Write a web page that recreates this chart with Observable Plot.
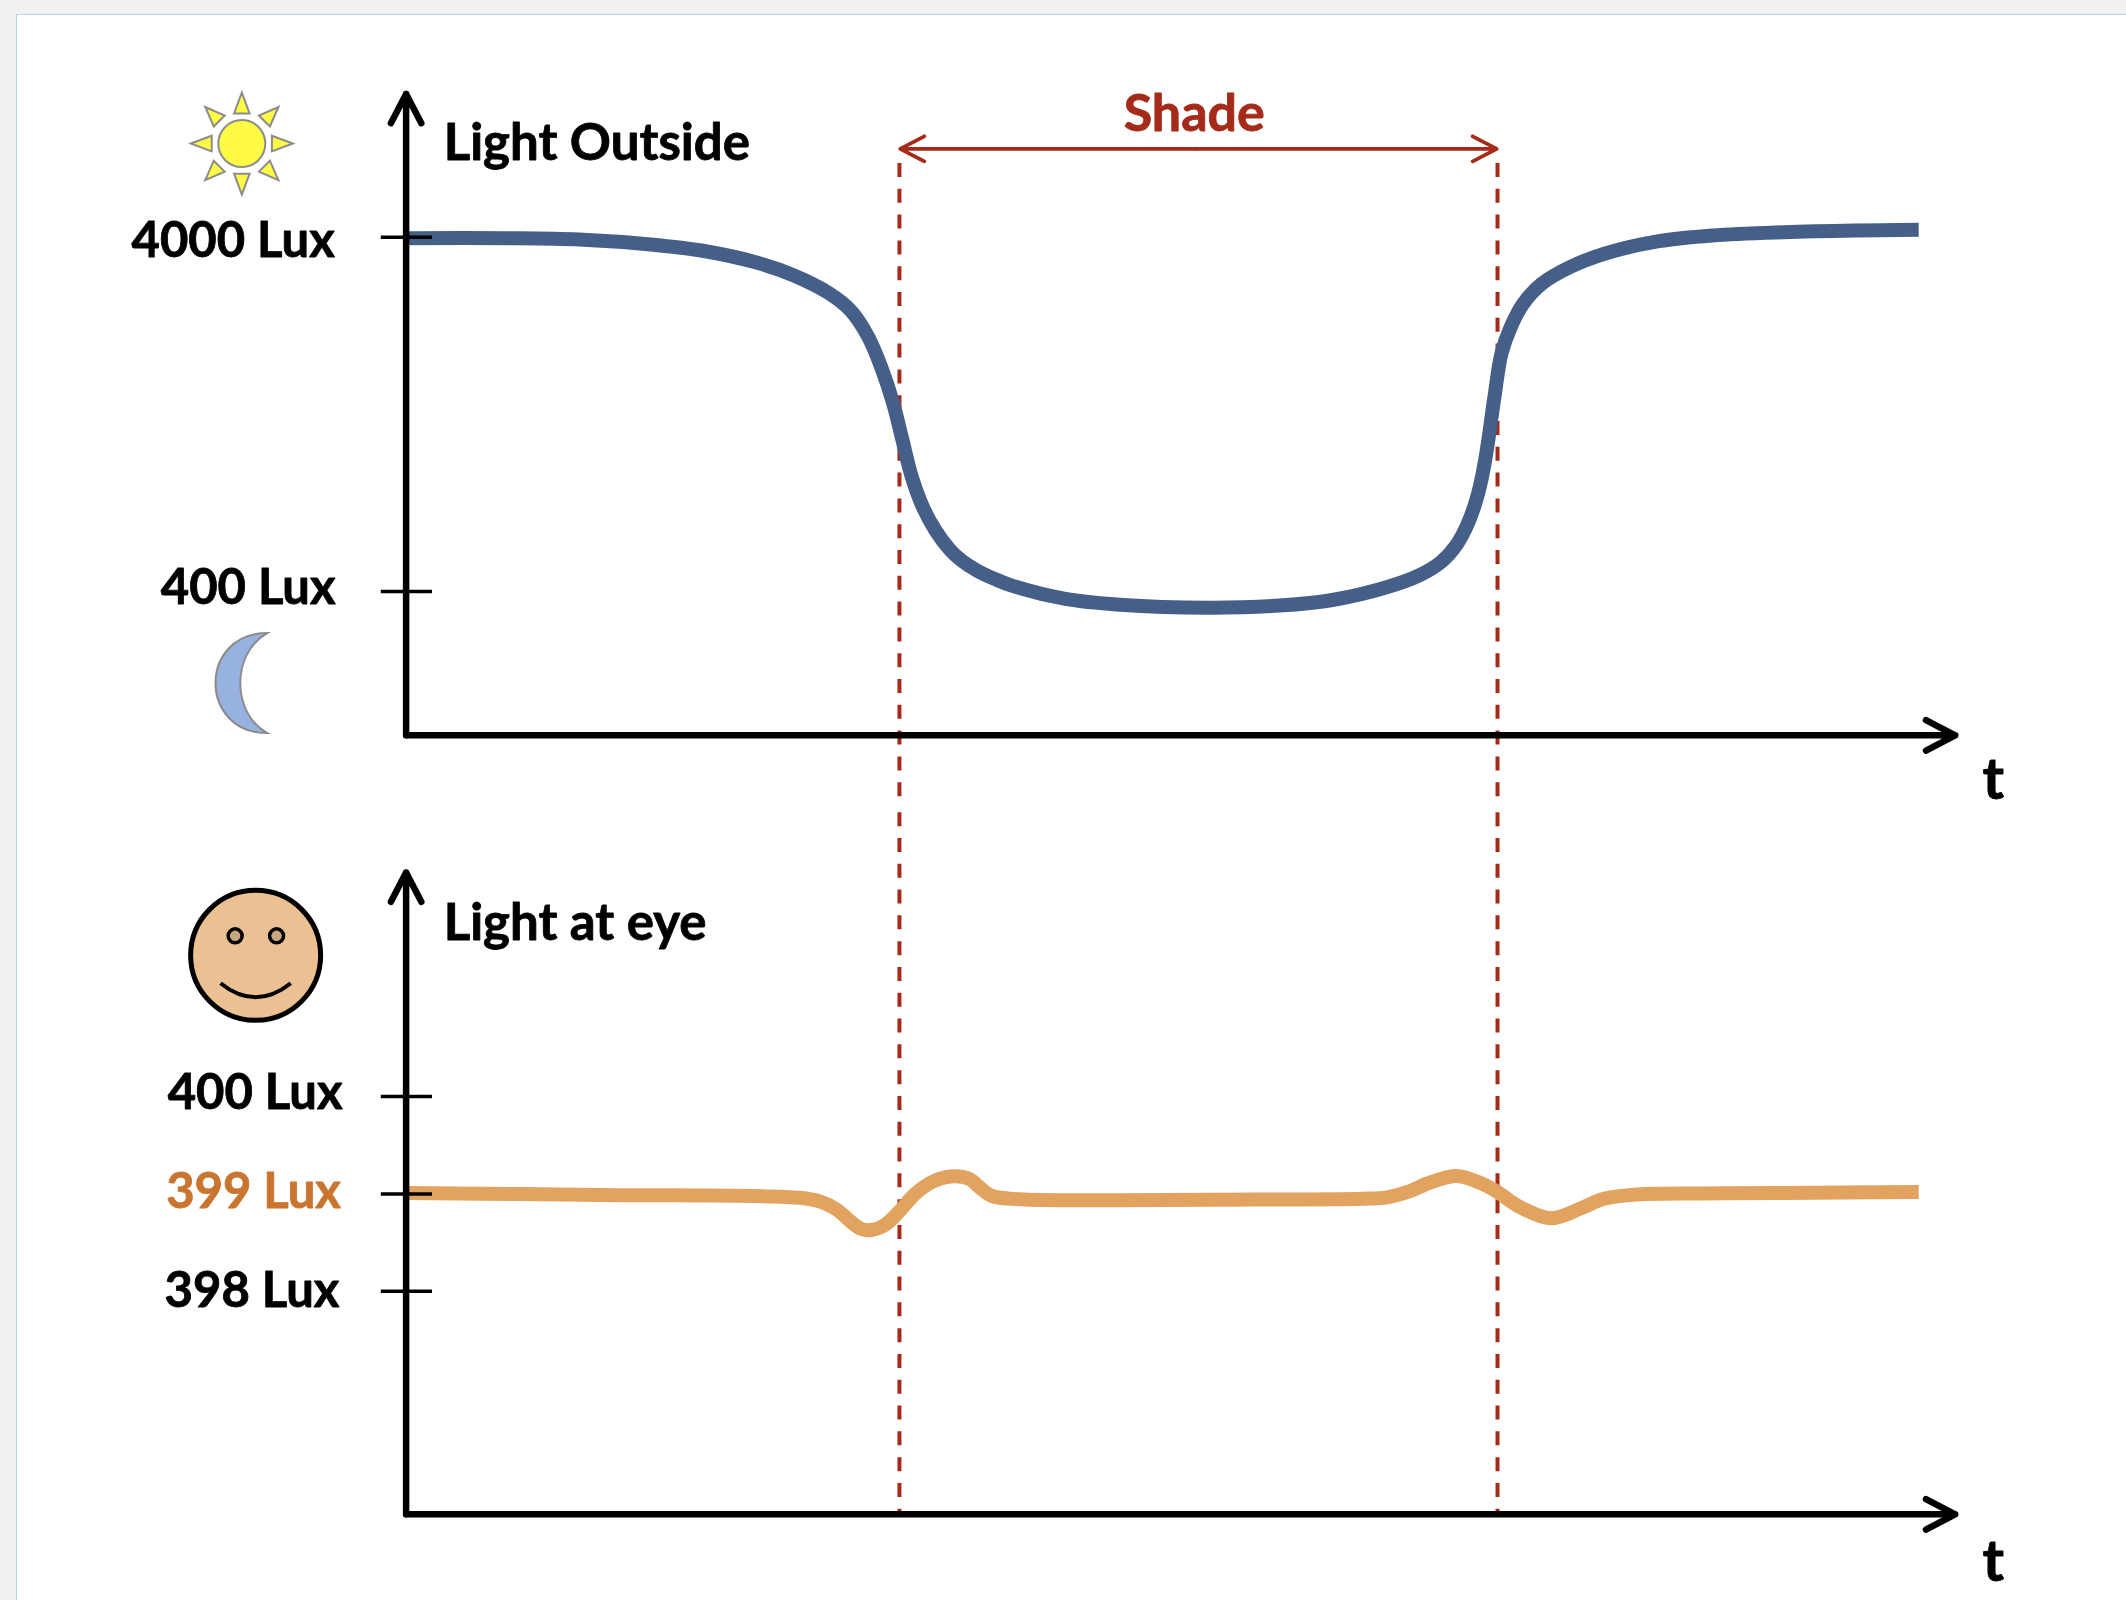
<!DOCTYPE html>
<html>
<head>
<meta charset="utf-8">
<script src="https://cdn.jsdelivr.net/npm/d3@7"></script>
<script src="https://cdn.jsdelivr.net/npm/@observablehq/plot@0.6"></script>
<style>
  html, body { margin: 0; padding: 0; width: 2126px; height: 1600px; overflow: hidden; background: #f1f1f1; }
  #sheet { position: absolute; left: 16px; top: 14px; right: 0; bottom: 0; background: #fff; border-left: 1.5px solid #bdd0e8; border-top: 1.5px solid #bdd0e8; box-sizing: border-box; }
  #top, #bottom { position: absolute; left: 0; width: 2126px; height: 800px; }
  #top { top: 0; } #bottom { top: 800px; }
  svg { display: block; background: transparent !important; }
</style>
</head>
<body>
<div id="sheet"></div>
<div id="top"></div>
<div id="bottom"></div>
<script>
// Light outside (t: percent of the axis length, lux on a log axis)
const tOutside = [0, 6.5, 11.15, 15.75, 19.2, 22.65, 25, 27.25, 28.65, 29.8, 30.7, 31.4, 32, 32.6, 33.35, 34.12, 35.03, 35.8, 36.77, 37.93, 39, 42.5, 46, 51.7, 56.3, 59.8, 63.2, 65.3, 66.7, 67.7, 68.48, 69.1, 69.55, 70.15, 70.6, 71.2, 72, 73.2, 75, 77.3, 80.75, 84.2, 88.8, 93.4, 97.5];
const luxOutside = [3975, 3975, 3941, 3815, 3657, 3387, 3118, 2780, 2484, 2088, 1682, 1357, 1067, 841, 686, 595, 526, 489, 459, 434, 416, 381, 367, 360, 365, 379, 411, 444, 484, 541, 628, 756, 937, 1414, 1875, 2229, 2594, 2955, 3291, 3598, 3897, 4045, 4132, 4178, 4196];

// Light at the eye (lux on a linear axis)
const tEye = [0, 12.5, 25.4, 26.7, 27.75, 28.7, 29.35, 30, 30.85, 31.85, 32.8, 34, 35.1, 36.3, 36.95, 37.75, 39.55, 45.15, 51.7, 61.6, 63.25, 64.55, 66.05, 67.7, 69.15, 70.35, 71.8, 73.85, 75.7, 77.2, 79.4, 83.8, 88.8, 97.5];
const luxEye = [399.01, 398.99, 398.96, 398.92, 398.84, 398.71, 398.64, 398.63, 398.68, 398.83, 399, 399.13, 399.18, 399.155, 399.07, 398.98, 398.945, 398.935, 398.94, 398.95, 398.965, 399.02, 399.12, 399.185, 399.12, 399.02, 398.865, 398.75, 398.85, 398.95, 398.995, 399.005, 399.01, 399.02];

const shadeT = [31.8, 70.35];
const outsideTicks = [4000, 400];
const outsideTickLabels = ["4000 Lux", "400 Lux"];
const eyeTicks = [400, 399, 398];
const eyeTickLabels = ["400 Lux", "399 Lux", "398 Lux"];

const BLUE = "#465f88", ORANGE = "#e2a360", RED = "#a42b19", ORANGE_TEXT = "#c9742f", GREY = "#8c8c8c";
const FONT = "Lato";
const xScale = {domain: [-26.145, 110.893], range: [0, 2126], axis: null};
const base = {width: 2126, height: 800, marginTop: 0, marginRight: 0, marginBottom: 0, marginLeft: 0, style: {background: "transparent", overflow: "visible"}};
const one = [0];

// Icons are drawn as custom dot symbols placed through the scales
const sunRays = {draw(c, size) {
  const r = Math.sqrt(size / Math.PI);
  for (let k = 0; k < 8; ++k) {
    const a = k * Math.PI / 4, cs = Math.cos(a), sn = Math.sin(a);
    const long = k % 2 ? 2.2 : 2.17, inner = k % 2 ? 1.36 : 1.28, hw = 0.33;
    c.moveTo(r * long * cs, r * long * sn);
    c.lineTo(r * (inner * cs - hw * sn), r * (inner * sn + hw * cs));
    c.lineTo(r * (inner * cs + hw * sn), r * (inner * sn - hw * cs));
    c.closePath();
  }
}};
const moon = {draw(c, size) {
  const r = Math.sqrt(size / Math.PI);
  c.moveTo(0, -r);
  c.bezierCurveTo(-1.38 * r, -r, -1.38 * r, r, 0, r);
  c.bezierCurveTo(-0.72 * r, 0.6 * r, -0.72 * r, -0.6 * r, 0, -r);
  c.closePath();
}};
const smile = {draw(c, size) {
  const r = Math.sqrt(size / Math.PI);
  c.moveTo(-0.54 * r, 0.43 * r);
  c.quadraticCurveTo(0, 0.86 * r, 0.54 * r, 0.43 * r);
}};

const label = (text, x, y, o = {}) => {
  const fill = o.fill || "#000";
  return Plot.text(one, {x: () => x, y: () => y, text: () => text, fontFamily: FONT, fontWeight: 700, fontSize: 49, fill, stroke: fill, strokeWidth: 0.8, lineAnchor: "middle", ...o});
};
const axisArrow = (x1, y1, x2, y2) => Plot.arrow(one, {x1: () => x1, y1: () => y1, x2: () => x2, y2: () => y2, stroke: "#000", strokeWidth: 6.5, headLength: 7.6, headAngle: 55, strokeLinecap: "round", strokeLinejoin: "round"});
const ticks = (vals) => Plot.ruleY(vals, {y: d => d, x1: () => -1.6, x2: () => 1.7, stroke: "#000", strokeWidth: 3.6});

const topChart = Plot.plot({
  ...base,
  x: xScale,
  y: {type: "log", domain: [102.8, 18628], range: [800, 0], axis: null},
  marks: [
    Plot.ruleX(shadeT, {x: d => d, y1: () => 6457, y2: () => 102.8, stroke: RED, strokeWidth: 4, strokeDasharray: "14 11.8"}),
    Plot.line(luxOutside, {x: tOutside, y: luxOutside, curve: "catmull-rom", stroke: BLUE, strokeWidth: 14, strokeLinecap: "butt"}),
    axisArrow(0, 157, 0, 10150),
    axisArrow(0, 157, 99.85, 157),
    ticks(outsideTicks),
    label(outsideTickLabels[0], -4.6, 4000, {textAnchor: "end", dy: 4}),
    label(outsideTickLabels[1], -4.55, 400, {textAnchor: "end", dy: -3}),
    label("Light Outside", 2.42, 7351, {textAnchor: "start", fontSize: 51}),
    label("Shade", 50.8, 9052, {fill: RED, textAnchor: "middle", fontSize: 52, dy: 2.5}),
    label("t", 102.3, 117, {fontSize: 58, textAnchor: "middle"}),
    Plot.arrow(one, {x1: () => 51, y1: () => 7103, x2: () => 31.85, y2: () => 7103, stroke: RED, strokeWidth: 3.8, headLength: 10.7, headAngle: 55}),
    Plot.arrow(one, {x1: () => 51, y1: () => 7103, x2: () => 70.3, y2: () => 7103, stroke: RED, strokeWidth: 3.8, headLength: 10.7, headAngle: 55}),
    Plot.dot(one, {x: () => -10.59, y: () => 7351, r: 23.5, symbol: sunRays, fill: "#fffb45", stroke: GREY, strokeWidth: 2}),
    Plot.dot(one, {x: () => -10.59, y: () => 7351, r: 23.5, fill: "#fffb45", stroke: GREY, strokeWidth: 2}),
    Plot.dot(one, {x: () => -8.95, y: () => 220.5, r: 50, symbol: moon, fill: "#97b1e0", stroke: GREY, strokeWidth: 2})
  ]
});
document.getElementById("top").append(topChart);

const bottomChart = Plot.plot({
  ...base,
  x: xScale,
  y: {domain: [394.825, 403.04], range: [800, 0], axis: null},
  marks: [
    Plot.ruleX(shadeT, {x: d => d, y1: () => 402.915, y2: () => 395.71, stroke: RED, strokeWidth: 4, strokeDasharray: "14 11.8"}),
    Plot.line(luxEye, {x: tEye, y: luxEye, curve: "catmull-rom", stroke: ORANGE, strokeWidth: 14, strokeLinecap: "butt"}),
    axisArrow(0, 395.71, 0, 402.3),
    axisArrow(0, 395.71, 99.85, 395.71),
    ticks(eyeTicks),
    label(eyeTickLabels[0], -4.1, 400, {textAnchor: "end", dy: -3.5}),
    label(eyeTickLabels[1], -4.2, 399, {textAnchor: "end", dy: -2, fill: ORANGE_TEXT}),
    label(eyeTickLabels[2], -4.3, 398, {textAnchor: "end", dy: 0.5}),
    label("Light at eye", 2.42, 401.78, {textAnchor: "start", fontSize: 51}),
    label("t", 102.3, 395.22, {fontSize: 58, textAnchor: "middle"}),
    Plot.dot(one, {x: () => -9.7, y: () => 401.45, r: 65, fill: "#ebc193", stroke: "#000", strokeWidth: 5}),
    Plot.dot([-11.02, -8.35], {x: d => d, y: () => 401.65, r: 7, fill: "#c8a77e", stroke: "#000", strokeWidth: 3.5}),
    Plot.dot(one, {x: () => -9.7, y: () => 401.45, r: 65, symbol: smile, fill: "none", stroke: "#000", strokeWidth: 4})
  ]
});
document.getElementById("bottom").append(bottomChart);
</script>
</body>
</html>
